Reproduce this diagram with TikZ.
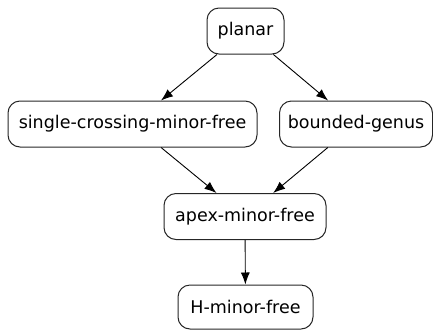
\documentclass[tikz,border=0pt]{standalone}
\usepackage{fontspec}
\setmainfont{DejaVu Sans}
\usetikzlibrary{arrows.meta}

\begin{document}
\begin{tikzpicture}[x=1pt,y=-1pt,-{Latex[length=12pt,width=9pt]}]
   \useasboundingbox (0,0) rectangle (433,330);
   \fontsize{17.5}{20}\selectfont
   \tikzstyle{main}=[draw=black!85, line width=1pt, rounded corners=12pt, minimum height=46pt, inner xsep=8pt]
   \node[main, minimum width=77pt] (planar) at (245.5,31) {planar};
   \node[main, minimum width=249pt] (single) at (132.5,124) {single-crossing-minor-free};
   \node[main, minimum width=153pt] (genus) at (356,124) {bounded-genus};
   \node[main, minimum width=162pt] (apex) at (245,216.5) {apex-minor-free};
   \node[main, minimum width=135pt, minimum height=44pt] (hminor) at (245.5,307) {H-minor-free};
   \path[line width=0.9pt] (planar) edge (single);
   \path[line width=0.9pt] (planar) edge (genus);
   \path[line width=0.9pt] (single) edge (apex);
   \path[line width=0.9pt] (genus) edge (apex);
   \path[line width=0.9pt] (apex) edge (hminor);
\end{tikzpicture}
\end{document}
